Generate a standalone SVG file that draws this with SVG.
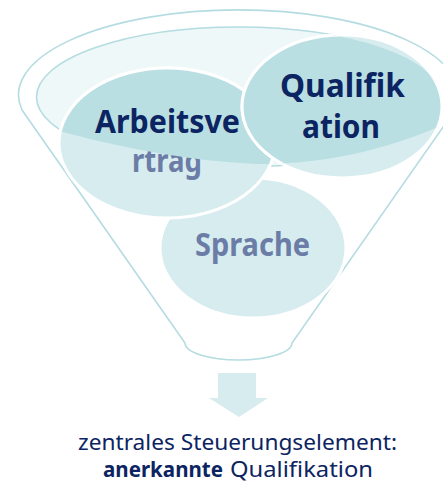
<svg xmlns="http://www.w3.org/2000/svg" width="443" height="482" viewBox="0 0 443 482">
<defs>
<style>
.line{fill:none;stroke:#b4dce1;stroke-width:1.6}
.lt{fill:#d6ecef;stroke:#ffffff;stroke-width:3}
.dk{fill:#b9dfe3;stroke:#ffffff;stroke-width:3}
.big{font-family:"Noto Sans","Open Sans","DejaVu Sans",sans-serif;font-weight:700;font-size:33px}
.tdk{fill:#0c2461}
.tlt{fill:#6b7ca6}
.cap{font-family:"Noto Sans","Open Sans","DejaVu Sans",sans-serif;font-size:21px;fill:#0c2461}
</style>
<clipPath id="inner"><path d="M36,97 A202,70 0 0 1 440.5,97 L446,97 L446,123 C400,145 330,165 255,164 C180,160 110,145 60,131 C45,122 36,110 36,97 Z"/></clipPath>
</defs>
<g id="funnel">
<path class="line" d="M22,110 A220,85 0 1 1 455,110 L292,343 A53.5,17 0 0 1 185,343 Z" style="fill:#ffffff"/>
<ellipse class="line" cx="238.5" cy="97" rx="202" ry="70" style="fill:#eef8f8"/>
</g>
<g id="node-sprache">
<ellipse class="lt" cx="253" cy="248" rx="93" ry="70"/>
<text class="big tlt" x="195" y="256" textLength="115" lengthAdjust="spacingAndGlyphs">Sprache</text>
</g>
<g id="node-arbeitsvertrag">
<ellipse class="lt" cx="167" cy="143" rx="108" ry="75"/>
<text class="big tlt" x="132" y="172" textLength="70" lengthAdjust="spacingAndGlyphs">rtrag</text>
<g clip-path="url(#inner)">
<ellipse class="dk" cx="167" cy="143" rx="108" ry="75"/>
<text class="big tdk" x="95" y="133" textLength="145" lengthAdjust="spacingAndGlyphs">Arbeitsve</text>
</g>
</g>
<g id="node-qualifikation">
<ellipse class="lt" cx="342" cy="106.5" rx="100" ry="71.5"/>
<g clip-path="url(#inner)">
<ellipse class="dk" cx="342" cy="106.5" rx="100" ry="71.5"/>
<text class="big tdk" x="280" y="97" textLength="125" lengthAdjust="spacingAndGlyphs">Qualifik</text>
<text class="big tdk" x="302" y="138" textLength="78" lengthAdjust="spacingAndGlyphs">ation</text>
</g>
</g>
<g id="connectors">
<path d="M218,373 H256 V398 H268 L239,417 L209,398 H218 Z" fill="#d6ecef"/>
</g>
<g id="node-result">
<text class="cap" x="78" y="450" textLength="319" lengthAdjust="spacingAndGlyphs">zentrales Steuerungselement:</text>
<text class="cap" x="103" y="477" font-weight="700" textLength="120" lengthAdjust="spacingAndGlyphs">anerkannte</text>
<text class="cap" x="230" y="477" textLength="143" lengthAdjust="spacingAndGlyphs">Qualifikation</text>
</g>
</svg>
